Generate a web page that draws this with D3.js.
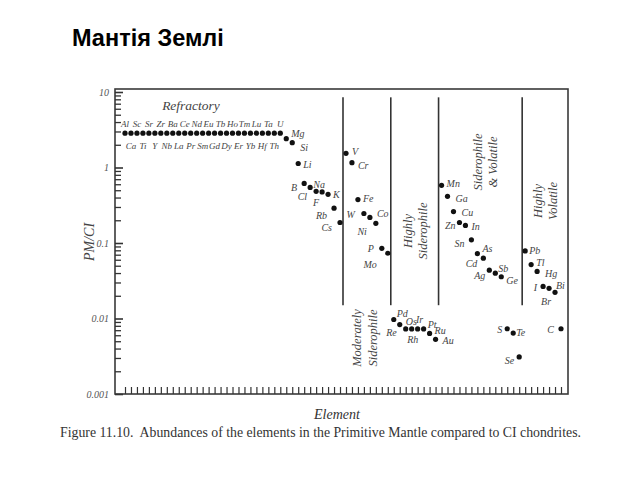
<!DOCTYPE html>
<html><head><meta charset="utf-8">
<script src="https://cdn.jsdelivr.net/npm/d3@7"></script>
<style>
html,body{margin:0;padding:0;background:#fff;}
svg{display:block;}
</style></head>
<body>
<svg id="chart" width="640" height="480"></svg>
<script>
// ---------- DATA ----------
const elements = ["Al","Ca","Sc","Ti","Sr","Y","Zr","Nb","Ba","La","Ce","Pr","Nd","Sm","Eu","Gd","Tb","Dy","Ho","Er","Tm","Yb","Lu","Hf","Ta","Th","U",
  "Mg","Si","Li","B","Cl","Na","F","K","Rb","Cs",
  "V","Cr","Fe","W","Co","Ni","P","Mo",
  "Pd","Re","Os","Rh","Ir","Pt","Ru","Au",
  "Mn","Ga","Cu","Zn","In","Sn","As","Cd","Ag","Sb","Ge","S","Te","Se",
  "Pb","Tl","Hg","I","Br","Bi","C"];
const pmci = [2.85,2.85,2.85,2.85,2.85,2.85,2.85,2.85,2.85,2.85,2.85,2.85,2.85,2.85,2.85,2.85,2.85,2.85,2.85,2.85,2.85,2.85,2.85,2.85,2.85,2.85,2.85,
  2.41,2.13,1.13,0.616,0.545,0.483,0.475,0.441,0.289,0.187,
  1.54,1.16,0.376,0.246,0.218,0.182,0.0851,0.0732,
  0.0097,0.0083,0.00727,0.00727,0.00727,0.00727,0.00635,0.0053,
  0.58,0.415,0.261,0.187,0.171,0.110,0.0723,0.0629,0.0437,0.0399,0.0357,0.00732,0.00641,0.0031,
  0.0785,0.0518,0.042,0.0266,0.0251,0.0222,0.00732];
const yTickValues = [10,1,0.1,0.01,0.001];
const yTickLabels = ["10","1","0.1","0.01","0.001"];
const groupEnds = ["Cs","Mo","Au","Se"];           // separators after these
const separatorRange = [8.5, 0.015];
const refractoryCount = 27;
const titleText = "Мантія Землі";
const captionText = "Figure 11.10.  Abundances of the elements in the Primitive Mantle compared to CI chondrites.";

// ---------- LAYOUT ----------
const frame = {left:115, top:89, right:568, bottom:394};
const svg = d3.select("#chart");
const serif = "'Liberation Serif', 'DejaVu Serif', serif";

const x = d3.scalePoint().domain(elements).range([125, 561]);
const y = d3.scaleLog().domain([0.001, 10]).range([394, 92]);

// label offsets (dx, dy, anchor) for non-refractory elements
const labelPos = {
  Mg:[5,-2,"start"], Si:[8,8,"start"], Li:[5,5,"start"], B:[-7,8,"end"], Cl:[-3,13,"end"],
  Na:[3,-3,"middle"], F:[-6,14,"middle"], K:[5,4,"start"], Rb:[-7,11,"end"], Cs:[-8,9,"end"],
  V:[6,2,"start"], Cr:[6,6,"start"], Fe:[5,2,"start"], W:[-9,5,"end"], Co:[7,0,"start"],
  Ni:[-9,12,"end"], P:[-8,4,"end"], Mo:[-11,15,"end"],
  Pd:[3,-2,"start"], Re:[-3,11,"end"], Os:[0,-4,"start"], Ir:[2,-6,"middle"], Rh:[1,14,"middle"],
  Pt:[4,-1,"start"], Ru:[5,1,"start"], Au:[7,5,"start"],
  Mn:[5,2,"start"], Ga:[8,6,"start"], Cu:[8,4,"start"], Zn:[-4,7,"end"], In:[6,5,"start"],
  Sn:[-7,7,"end"], As:[5,-2,"start"], Cd:[-6,9,"end"], Ag:[-4,9,"end"], Sb:[3,-1,"start"],
  Ge:[5,7,"start"], S:[-5,4,"end"], Te:[3,3,"start"], Se:[-5,7,"end"],
  Pb:[4,3,"start"], Tl:[5,1,"start"], Hg:[8,6,"start"], I:[-6,5,"end"], Br:[-3,17,"middle"],
  Bi:[1,-3,"start"], C:[-7,4,"end"]
};

// Title
svg.append("text").attr("x",72).attr("y",46)
  .attr("font-family","'Liberation Sans', Arial, sans-serif").attr("font-weight","bold")
  .attr("font-size",23.5).attr("fill","#000").text(titleText);

// Frame
svg.append("rect").attr("x",frame.left).attr("y",frame.top)
  .attr("width",frame.right-frame.left).attr("height",frame.bottom-frame.top)
  .attr("fill","none").attr("stroke","#3a3a3a").attr("stroke-width",1.6);

// Y axis: minor ticks
const minor = y.ticks().filter(v => !yTickValues.includes(v));
svg.append("g").attr("transform",`translate(${frame.left},0)`)
  .call(d3.axisLeft(y).tickValues(minor).tickSize(-6).tickFormat(""))
  .call(g => g.select(".domain").remove())
  .call(g => g.selectAll("line").attr("stroke","#333").attr("stroke-width",1.3));
// Y axis: major ticks + labels
svg.append("g").attr("transform",`translate(${frame.left},0)`)
  .call(d3.axisLeft(y).tickValues(yTickValues).tickSize(-8).tickPadding(6)
        .tickFormat((d,i) => yTickLabels[i]))
  .call(g => g.select(".domain").remove())
  .call(g => g.selectAll("line").attr("stroke","#333").attr("stroke-width",1.6))
  .call(g => g.selectAll("text").attr("font-family",serif).attr("font-style","italic")
        .attr("font-size",10).attr("fill","#555"));

// X axis ticks
svg.append("g").attr("transform",`translate(0,${frame.bottom})`)
  .call(d3.axisBottom(x).tickSize(-7).tickFormat(""))
  .call(g => g.select(".domain").remove())
  .call(g => g.selectAll("line").attr("stroke","#333").attr("stroke-width",1.2));

// Separators
const step = x.step();
groupEnds.forEach(e => {
  const sx = x(e) + step/2;
  svg.append("line").attr("x1",sx).attr("x2",sx)
    .attr("y1",y(separatorRange[0])).attr("y2",y(separatorRange[1]))
    .attr("stroke","#333").attr("stroke-width",1.6);
});

// Points
const data = elements.map((e,i) => ({el:e, v:pmci[i], i}));
svg.append("g").selectAll("circle").data(data).join("circle")
  .attr("cx",d => x(d.el)).attr("cy",d => y(d.v)).attr("r",2.6).attr("fill","#111");

// Refractory labels (alternating above/below)
svg.append("g").selectAll("text").data(data.filter(d => d.i < refractoryCount)).join("text")
  .attr("x",d => x(d.el)).attr("y",d => y(d.v) + (d.i % 2 === 0 ? -6 : 16))
  .attr("text-anchor","middle").attr("font-family",serif).attr("font-style","italic")
  .attr("font-size",9).attr("fill","#444").text(d => d.el);

// Other labels
svg.append("g").selectAll("text").data(data.filter(d => d.i >= refractoryCount)).join("text")
  .attr("x",d => x(d.el) + labelPos[d.el][0]).attr("y",d => y(d.v) + labelPos[d.el][1])
  .attr("text-anchor",d => labelPos[d.el][2]).attr("font-family",serif).attr("font-style","italic")
  .attr("font-size",10).attr("fill","#444").text(d => d.el);

// Group labels
function groupLabel(cx, cy, lines, gap) {
  const t = svg.append("text").attr("transform",`translate(${cx},${cy}) rotate(-90)`)
    .attr("text-anchor","middle").attr("font-family",serif).attr("font-style","italic")
    .attr("font-size",12.5).attr("fill","#444");
  lines.forEach((l,k) => t.append("tspan").attr("x",0).attr("y", k===0 ? -4 : -4+gap).text(l));
}
svg.append("text").attr("x",191).attr("y",110).attr("text-anchor","middle")
  .attr("font-family",serif).attr("font-style","italic").attr("font-size",13.5).attr("fill","#444")
  .text("Refractory");
groupLabel(365, 338, ["Moderately","Siderophile"], 16);
groupLabel(416, 231, ["Highly","Siderophile"], 15);
groupLabel(486, 162, ["Siderophile","& Volatile"], 15);
groupLabel(546, 201, ["Highly","Volatile"], 15);

// Axis titles
svg.append("text").attr("transform","translate(94,242) rotate(-90)").attr("text-anchor","middle")
  .attr("font-family",serif).attr("font-style","italic").attr("font-size",14).attr("fill","#444")
  .text("PM/CI");
svg.append("text").attr("x",337).attr("y",419).attr("text-anchor","middle")
  .attr("font-family",serif).attr("font-style","italic").attr("font-size",14).attr("fill","#333")
  .text("Element");

// Caption
svg.append("text").attr("x",60).attr("y",437)
  .attr("font-family",serif).attr("font-size",13.8).attr("fill","#333")
  .attr("xml:space","preserve").style("white-space","pre").text(captionText);
</script>
</body></html>
